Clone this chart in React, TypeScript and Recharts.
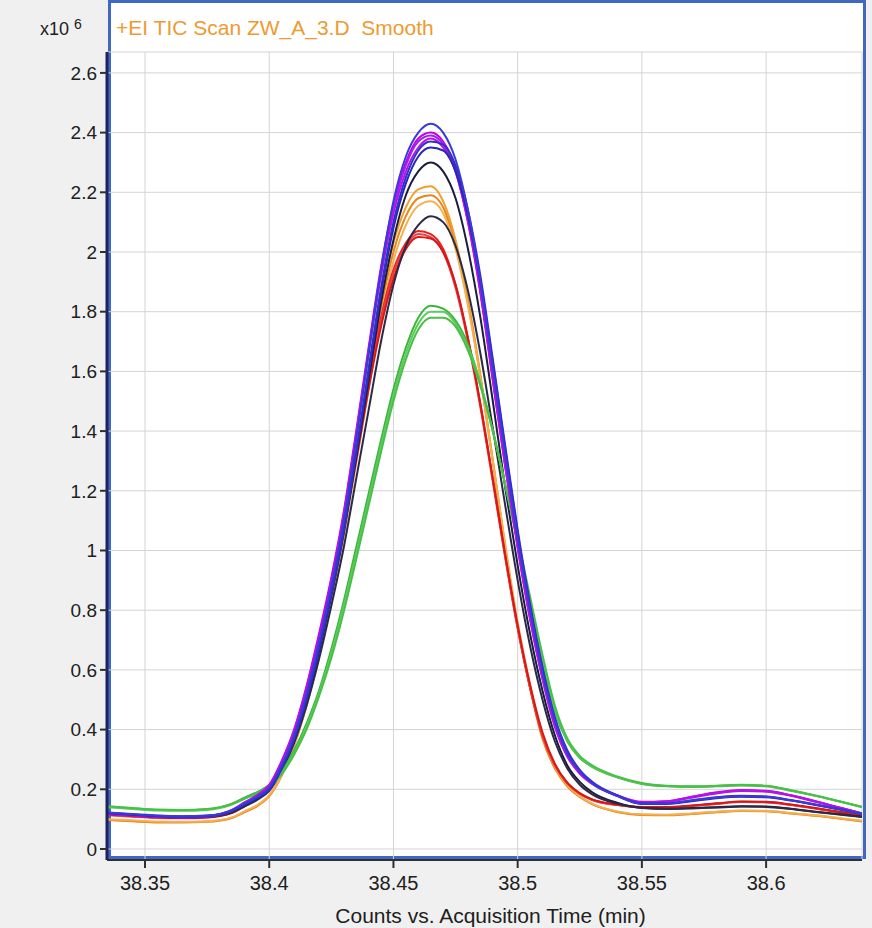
import { LineChart, Line, XAxis, YAxis, CartesianGrid } from "recharts";

// acquisition time (min)
const times = [
  38.335, 38.345, 38.355, 38.365, 38.375, 38.385, 38.39, 38.395, 38.4, 38.405,
  38.41, 38.415, 38.42, 38.425, 38.43, 38.435, 38.44, 38.445, 38.45, 38.455,
  38.46, 38.465, 38.47, 38.475, 38.48, 38.485, 38.49, 38.495, 38.5, 38.505,
  38.51, 38.515, 38.52, 38.525, 38.53, 38.54, 38.55, 38.56, 38.57, 38.58,
  38.59, 38.6, 38.61, 38.62, 38.63, 38.64,
];

// counts, x10^6
const orange1 = [0.098, 0.094, 0.09, 0.09, 0.092, 0.105, 0.125, 0.145, 0.18, 0.25, 0.35, 0.49, 0.66, 0.85, 1.07, 1.33, 1.6, 1.84, 2.03, 2.15, 2.21, 2.22, 2.17, 2.04, 1.84, 1.59, 1.3, 1.01, 0.75, 0.54, 0.37, 0.27, 0.21, 0.175, 0.15, 0.125, 0.115, 0.114, 0.118, 0.124, 0.128, 0.127, 0.12, 0.112, 0.102, 0.092];
const orange2 = [0.097, 0.093, 0.089, 0.089, 0.091, 0.104, 0.123, 0.143, 0.176, 0.245, 0.345, 0.48, 0.65, 0.84, 1.05, 1.31, 1.57, 1.81, 2.0, 2.12, 2.18, 2.19, 2.15, 2.02, 1.83, 1.58, 1.3, 1.01, 0.75, 0.54, 0.37, 0.27, 0.21, 0.174, 0.15, 0.124, 0.114, 0.113, 0.117, 0.123, 0.127, 0.126, 0.119, 0.111, 0.101, 0.091];
const orange3 = [0.1, 0.096, 0.092, 0.091, 0.093, 0.106, 0.126, 0.146, 0.18, 0.248, 0.347, 0.48, 0.645, 0.83, 1.04, 1.29, 1.54, 1.78, 1.97, 2.09, 2.155, 2.17, 2.13, 2.01, 1.82, 1.58, 1.3, 1.02, 0.76, 0.55, 0.38, 0.275, 0.213, 0.177, 0.152, 0.126, 0.116, 0.115, 0.119, 0.125, 0.129, 0.128, 0.121, 0.113, 0.103, 0.093];

const red1 = [0.115, 0.11, 0.105, 0.104, 0.106, 0.122, 0.145, 0.17, 0.205, 0.28, 0.38, 0.52, 0.69, 0.88, 1.09, 1.33, 1.57, 1.78, 1.94, 2.03, 2.07, 2.06, 2.01, 1.89, 1.71, 1.49, 1.24, 0.98, 0.74, 0.54, 0.38, 0.28, 0.22, 0.185, 0.165, 0.148, 0.14, 0.14, 0.145, 0.152, 0.158, 0.157, 0.148, 0.136, 0.123, 0.11];
const red2 = [0.113, 0.108, 0.104, 0.103, 0.105, 0.12, 0.143, 0.168, 0.202, 0.276, 0.375, 0.515, 0.68, 0.87, 1.08, 1.32, 1.56, 1.77, 1.93, 2.02, 2.06, 2.05, 2.0, 1.88, 1.7, 1.48, 1.23, 0.975, 0.74, 0.54, 0.38, 0.28, 0.22, 0.185, 0.164, 0.147, 0.139, 0.139, 0.144, 0.151, 0.157, 0.156, 0.147, 0.135, 0.122, 0.109];
const red3 = [0.116, 0.111, 0.106, 0.105, 0.107, 0.122, 0.144, 0.168, 0.2, 0.272, 0.37, 0.505, 0.67, 0.86, 1.07, 1.3, 1.54, 1.75, 1.91, 2.01, 2.05, 2.045, 2.0, 1.89, 1.71, 1.49, 1.24, 0.985, 0.75, 0.55, 0.39, 0.285, 0.222, 0.187, 0.166, 0.149, 0.141, 0.141, 0.146, 0.153, 0.159, 0.158, 0.149, 0.137, 0.124, 0.111];

const black1 = [0.118, 0.113, 0.108, 0.106, 0.108, 0.124, 0.145, 0.168, 0.2, 0.27, 0.37, 0.5, 0.66, 0.85, 1.06, 1.31, 1.57, 1.83, 2.04, 2.19, 2.27, 2.3, 2.27, 2.18, 2.01, 1.78, 1.5, 1.21, 0.95, 0.72, 0.53, 0.38, 0.28, 0.225, 0.19, 0.155, 0.138, 0.135, 0.137, 0.14, 0.143, 0.142, 0.135, 0.125, 0.116, 0.107];
const black2 = [0.117, 0.112, 0.107, 0.105, 0.107, 0.122, 0.142, 0.164, 0.195, 0.262, 0.355, 0.48, 0.635, 0.815, 1.01, 1.24, 1.47, 1.7, 1.89, 2.02, 2.09, 2.12, 2.1, 2.02, 1.87, 1.66, 1.41, 1.15, 0.9, 0.68, 0.5, 0.36, 0.27, 0.215, 0.183, 0.152, 0.137, 0.134, 0.136, 0.139, 0.142, 0.141, 0.134, 0.124, 0.115, 0.106];

const green1 = [0.142, 0.136, 0.131, 0.13, 0.133, 0.152, 0.172, 0.19, 0.215, 0.26, 0.33, 0.42, 0.53, 0.67, 0.83, 1.01, 1.19, 1.37, 1.54, 1.68, 1.78, 1.82, 1.81, 1.77, 1.69, 1.56, 1.4, 1.22, 1.03, 0.83, 0.63, 0.46, 0.36, 0.305, 0.275, 0.24, 0.218, 0.21, 0.208, 0.21, 0.213, 0.21, 0.195, 0.178, 0.158, 0.138];
const green2 = [0.14, 0.134, 0.129, 0.128, 0.131, 0.149, 0.168, 0.186, 0.21, 0.254, 0.322, 0.41, 0.52, 0.655, 0.815, 0.99, 1.17, 1.35, 1.52, 1.66, 1.76, 1.8, 1.8, 1.76, 1.68, 1.56, 1.4, 1.22, 1.03, 0.835, 0.64, 0.47, 0.365, 0.308, 0.277, 0.241, 0.219, 0.211, 0.209, 0.211, 0.214, 0.211, 0.196, 0.178, 0.158, 0.137];
const green3 = [0.143, 0.137, 0.132, 0.131, 0.134, 0.151, 0.169, 0.186, 0.208, 0.25, 0.316, 0.4, 0.51, 0.64, 0.795, 0.97, 1.15, 1.33, 1.5, 1.64, 1.74, 1.78, 1.78, 1.75, 1.67, 1.55, 1.4, 1.22, 1.04, 0.845, 0.65, 0.48, 0.37, 0.312, 0.28, 0.243, 0.221, 0.212, 0.21, 0.212, 0.215, 0.212, 0.197, 0.179, 0.159, 0.139];

const magenta1 = [0.118, 0.113, 0.109, 0.107, 0.11, 0.13, 0.156, 0.18, 0.215, 0.295, 0.4, 0.545, 0.72, 0.91, 1.13, 1.4, 1.68, 1.95, 2.16, 2.3, 2.38, 2.4, 2.37, 2.28, 2.11, 1.87, 1.57, 1.28, 1.01, 0.77, 0.57, 0.41, 0.31, 0.255, 0.22, 0.18, 0.158, 0.16, 0.175, 0.19, 0.198, 0.195, 0.18, 0.16, 0.138, 0.117];
const magenta2 = [0.12, 0.115, 0.11, 0.108, 0.111, 0.131, 0.155, 0.178, 0.212, 0.29, 0.395, 0.54, 0.71, 0.9, 1.12, 1.39, 1.67, 1.94, 2.15, 2.29, 2.37, 2.39, 2.36, 2.27, 2.1, 1.86, 1.57, 1.28, 1.01, 0.77, 0.57, 0.41, 0.31, 0.252, 0.218, 0.178, 0.155, 0.158, 0.172, 0.186, 0.194, 0.192, 0.178, 0.158, 0.137, 0.116];
const magenta3 = [0.116, 0.111, 0.107, 0.105, 0.108, 0.128, 0.152, 0.176, 0.21, 0.288, 0.392, 0.535, 0.705, 0.895, 1.11, 1.38, 1.66, 1.92, 2.13, 2.27, 2.35, 2.38, 2.35, 2.27, 2.1, 1.87, 1.58, 1.29, 1.02, 0.78, 0.58, 0.42, 0.315, 0.255, 0.22, 0.18, 0.157, 0.16, 0.174, 0.188, 0.196, 0.194, 0.18, 0.159, 0.137, 0.116];

const blue1 = [0.122, 0.117, 0.112, 0.11, 0.112, 0.13, 0.152, 0.175, 0.205, 0.28, 0.38, 0.52, 0.69, 0.88, 1.1, 1.37, 1.66, 1.94, 2.17, 2.32, 2.4, 2.43, 2.4, 2.31, 2.14, 1.9, 1.61, 1.32, 1.04, 0.8, 0.59, 0.43, 0.32, 0.26, 0.22, 0.178, 0.152, 0.152, 0.162, 0.172, 0.177, 0.175, 0.163, 0.148, 0.132, 0.115];
const blue2 = [0.121, 0.116, 0.111, 0.109, 0.111, 0.128, 0.15, 0.172, 0.2, 0.272, 0.37, 0.505, 0.67, 0.86, 1.07, 1.33, 1.61, 1.88, 2.1, 2.25, 2.34, 2.37, 2.36, 2.29, 2.14, 1.92, 1.64, 1.35, 1.07, 0.82, 0.61, 0.44, 0.33, 0.265, 0.225, 0.18, 0.153, 0.153, 0.163, 0.173, 0.178, 0.176, 0.164, 0.149, 0.133, 0.116];
const blue3 = [0.12, 0.115, 0.11, 0.108, 0.11, 0.127, 0.148, 0.17, 0.198, 0.268, 0.365, 0.5, 0.665, 0.85, 1.06, 1.32, 1.59, 1.86, 2.08, 2.23, 2.32, 2.35, 2.34, 2.27, 2.12, 1.9, 1.63, 1.34, 1.06, 0.81, 0.6, 0.435, 0.325, 0.262, 0.222, 0.178, 0.151, 0.151, 0.16, 0.17, 0.175, 0.173, 0.162, 0.147, 0.131, 0.114];

const xTicks = [38.35, 38.4, 38.45, 38.5, 38.55, 38.6];
const yTicks = [0, 0.2, 0.4, 0.6, 0.8, 1, 1.2, 1.4, 1.6, 1.8, 2, 2.2, 2.4, 2.6];

const series = [
  { key: "o1", values: orange1, color: "#f0a030" },
  { key: "o2", values: orange2, color: "#e8861c" },
  { key: "o3", values: orange3, color: "#f5b050" },
  { key: "r1", values: red1, color: "#e82020" },
  { key: "r2", values: red2, color: "#f03c3c" },
  { key: "r3", values: red3, color: "#d81818" },
  { key: "k1", values: black1, color: "#1c1c3c" },
  { key: "k2", values: black2, color: "#2a2a48" },
  { key: "g1", values: green1, color: "#3cb43c" },
  { key: "g2", values: green2, color: "#5ccc5c" },
  { key: "g3", values: green3, color: "#48c048" },
  { key: "m1", values: magenta1, color: "#c000e0" },
  { key: "m2", values: magenta2, color: "#a020f0" },
  { key: "m3", values: magenta3, color: "#b810e8" },
  { key: "b3", values: blue3, color: "#2828b8" },
  { key: "b2", values: blue2, color: "#3030c8" },
  { key: "b1", values: blue1, color: "#3a3ad8" },
];

const data = times.map((t, i) => {
  const row: Record<string, number> = { t };
  series.forEach((s) => {
    row[s.key] = s.values[i];
  });
  return row;
});

const FONT = "'Liberation Sans', Arial, sans-serif";

export default function App() {
  return (
    <div
      style={{
        position: "fixed",
        left: 0,
        top: 0,
        width: 872,
        height: 928,
        background: "#f0f0f0",
        fontFamily: FONT,
      }}
    >
      <div
        style={{
          position: "absolute",
          left: 108,
          top: 0,
          width: 752,
          height: 853,
          border: "3px solid #4068c0",
          background: "#ffffff",
        }}
      />
      <div style={{ position: "absolute", left: 40, top: 19, fontSize: 18, color: "#202020" }}>
        x10
        <span style={{ fontSize: 14, position: "relative", top: -6, marginLeft: 5 }}>6</span>
      </div>
      <div
        style={{
          position: "absolute",
          left: 116,
          top: 16,
          fontSize: 21,
          color: "#ee9a30",
          whiteSpace: "pre",
        }}
      >
        {"+EI TIC Scan ZW_A_3.D  Smooth"}
      </div>
      <div style={{ position: "absolute", left: 0, top: 0 }}>
        <LineChart
          width={872}
          height={928}
          data={data}
          margin={{ top: 52, right: 10, left: 0, bottom: 0 }}
        >
          <CartesianGrid stroke="#d4d4d4" strokeWidth={1} />
          <XAxis
            dataKey="t"
            type="number"
            domain={[38.3347, 38.6386]}
            allowDataOverflow
            ticks={xTicks}
            tickFormatter={(v) => String(v)}
            height={68}
            tickSize={8}
            tickMargin={8}
            axisLine={{ stroke: "#303030", strokeWidth: 2 }}
            tickLine={{ stroke: "#303030", strokeWidth: 2 }}
            tick={{ fill: "#202020", fontSize: 20, fontFamily: FONT }}
            label={{
              value: "Counts vs. Acquisition Time (min)",
              position: "insideBottom",
              offset: 5,
              dx: 6,
              fill: "#202020",
              fontSize: 21,
              fontFamily: FONT,
            }}
          />
          <YAxis
            type="number"
            domain={[-0.0369, 2.67]}
            allowDataOverflow
            ticks={yTicks}
            tickFormatter={(v) => String(v)}
            width={107}
            tickSize={7}
            tickMargin={3}
            axisLine={{ stroke: "#1c2460", strokeWidth: 3 }}
            tickLine={{ stroke: "#303030", strokeWidth: 2 }}
            tick={{ fill: "#202020", fontSize: 19, fontFamily: FONT }}
          />
          {series.map((s) => (
            <Line
              key={s.key}
              dataKey={s.key}
              type="monotone"
              stroke={s.color}
              strokeWidth={2}
              dot={false}
              isAnimationActive={false}
            />
          ))}
        </LineChart>
      </div>
    </div>
  );
}
